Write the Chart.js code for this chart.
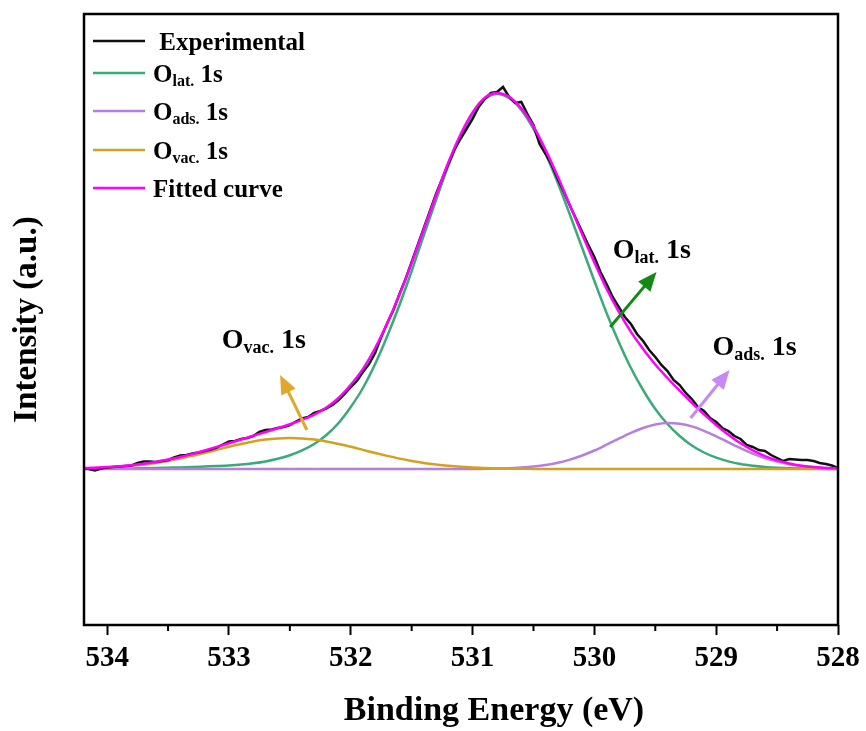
<!DOCTYPE html>
<html>
<head>
<meta charset="utf-8">
<script src="https://cdn.jsdelivr.net/npm/chart.js@4.4.0/dist/chart.umd.min.js"></script>
<style>
  body { margin: 0; background: #fff; }
  canvas { display: block; }
</style>
</head>
<body>
<canvas id="xps" width="866" height="731"></canvas>
<script>
// binding energy grid for the fitted components (eV)
const energy = [534.2, 534.1, 534.0, 533.9, 533.8, 533.7, 533.6, 533.5, 533.4, 533.3,
                533.2, 533.1, 533.0, 532.9, 532.8, 532.7, 532.6, 532.5, 532.4, 532.3,
                532.2, 532.1, 532.0, 531.9, 531.8, 531.7, 531.6, 531.5, 531.4, 531.3,
                531.2, 531.1, 531.0, 530.9, 530.8, 530.7, 530.6, 530.5, 530.4, 530.3,
                530.2, 530.1, 530.0, 529.9, 529.8, 529.7, 529.6, 529.5, 529.4, 529.3,
                529.2, 529.1, 529.0, 528.9, 528.8, 528.7, 528.6, 528.5, 528.4, 528.3,
                528.2, 528.1, 528.0];

// measured spectrum, finer grid
const expEnergy = [534.20, 534.15, 534.10, 534.05, 534.00, 533.95, 533.90, 533.85, 533.80, 533.75,
                   533.70, 533.65, 533.60, 533.55, 533.50, 533.45, 533.40, 533.35, 533.30, 533.25,
                   533.20, 533.15, 533.10, 533.05, 533.00, 532.95, 532.90, 532.85, 532.80, 532.75,
                   532.70, 532.65, 532.60, 532.55, 532.50, 532.45, 532.40, 532.35, 532.30, 532.25,
                   532.20, 532.15, 532.10, 532.05, 532.00, 531.95, 531.90, 531.85, 531.80, 531.75,
                   531.70, 531.65, 531.60, 531.55, 531.50, 531.45, 531.40, 531.35, 531.30, 531.25,
                   531.20, 531.15, 531.10, 531.05, 531.00, 530.95, 530.90, 530.85, 530.80, 530.75,
                   530.70, 530.65, 530.60, 530.55, 530.50, 530.45, 530.40, 530.35, 530.30, 530.25,
                   530.20, 530.15, 530.10, 530.05, 530.00, 529.95, 529.90, 529.85, 529.80, 529.75,
                   529.70, 529.65, 529.60, 529.55, 529.50, 529.45, 529.40, 529.35, 529.30, 529.25,
                   529.20, 529.15, 529.10, 529.05, 529.00, 528.95, 528.90, 528.85, 528.80, 528.75,
                   528.70, 528.65, 528.60, 528.55, 528.50, 528.45, 528.40, 528.35, 528.30, 528.25,
                   528.20, 528.15, 528.10, 528.05, 528.00];

const experimental = [0.5, 0, -1.5, 0.5, 1.5, 2, 2.5, 3, 3.5, 6,
                      7.5, 7.5, 7, 8, 9, 11.5, 13.5, 14, 15.5, 16.5,
                      18, 19.5, 21.5, 24.5, 27.5, 28, 30, 31, 33, 37,
                      39, 39.5, 41, 42, 44, 47.5, 50.5, 52, 56, 58,
                      60.5, 64, 69, 75, 82, 88, 97, 105, 116, 132,
                      146, 159, 175, 190, 207, 224, 241, 258, 275, 290,
                      305, 319, 330, 340, 350, 362, 370, 376, 377, 382,
                      372, 366, 367, 355, 344, 325, 315, 304, 290, 277,
                      263, 250, 237, 224, 212, 197, 185, 172, 162, 152,
                      145, 135, 128, 119, 112, 104, 98, 89, 84, 76,
                      70, 62, 58, 51, 47, 41, 38, 33, 30, 24,
                      22, 19, 18, 14, 11, 8, 10, 9.5, 9, 9,
                      8, 6, 5, 3.5, 1];

const oLat = [0.3, 0.3, 0.4, 0.5, 0.6, 0.8, 1.0, 1.3, 1.6, 2.0,
              2.5, 3.0, 3.6, 4.5, 5.8, 7.6, 10.2, 13.7, 18.6, 25,
              34, 46, 62, 81, 105, 133, 164, 198, 234, 269,
              303, 332, 355, 370, 375, 371, 359, 340, 315, 286,
              254, 221, 188, 156, 127, 101, 79, 60, 45, 33,
              23.5, 16.5, 11.3, 7.6, 4.9, 3.2, 2.0, 1.2, 0.7, 0.4,
              0.2, 0.1, 0.1];

const oAds = [0, 0, 0, 0, 0, 0, 0, 0, 0, 0,
              0, 0, 0, 0, 0, 0, 0, 0, 0, 0,
              0, 0, 0, 0, 0, 0, 0, 0, 0, 0,
              0, 0, 0, 0.2, 0.4, 0.7, 1.4, 2.4, 3.9, 6.2,
              9.4, 13.5, 18.5, 24.3, 30.3, 36.1, 41.0, 44.5, 46.0, 45.3,
              42.6, 38.2, 32.7, 26.7, 20.8, 15.4, 10.9, 7.4, 4.8, 2.9,
              1.7, 1.0, 0.5];

const oVac = [0.6, 1.0, 1.5, 2.2, 3.2, 4.5, 6.1, 8.1, 10.4, 13.1,
              16.0, 19.1, 22.2, 25.0, 27.5, 29.4, 30.6, 31.0, 30.6, 29.4,
              27.5, 25.0, 22.2, 19.1, 16.0, 13.1, 10.4, 8.1, 6.1, 4.5,
              3.2, 2.2, 1.5, 1.0, 0.6, 0.4, 0.2, 0.1, 0, 0,
              0, 0, 0, 0, 0, 0, 0, 0, 0, 0,
              0, 0, 0, 0, 0, 0, 0, 0, 0, 0,
              0, 0, 0];

const fitted = [0.9, 1.3, 1.9, 2.7, 3.8, 5.3, 7.1, 9.4, 12.0, 15.1,
                18.5, 22.1, 25.8, 29.5, 33.3, 37.0, 40.8, 44.7, 49.2, 54.4,
                61.5, 71.0, 84.2, 100.1, 121.0, 146.1, 174.4, 206.1, 240.1, 273.5,
                306.2, 334.2, 356.5, 371.2, 376.0, 372.1, 360.6, 342.5, 318.9, 292.2,
                263.4, 234.5, 206.5, 180.3, 157.3, 137.1, 120.0, 104.5, 91.0, 78.3,
                66.1, 54.7, 44.0, 34.3, 25.7, 18.6, 12.9, 8.6, 5.5, 3.3,
                1.9, 1.1, 0.6];

const xTicks = [534, 533, 532, 531, 530, 529, 528];

const FONT = '"Times New Roman", "Liberation Serif", serif';

function pts(xs, arr) {
    return xs.map((e, i) => ({ x: e, y: arr[i] }));
}

// text with subscripts written as O_{lat.}
function drawRich(ctx, str, x, y, size) {
    const parts = str.split(/(_\{[^}]*\})/);
    ctx.textAlign = 'left';
    ctx.textBaseline = 'alphabetic';
    parts.forEach(p => {
        if (!p) return;
        const sub = p.startsWith('_{');
        const t = sub ? p.slice(2, -1) : p;
        const fs = sub ? Math.round(size * 0.64) : size;
        ctx.font = 'bold ' + fs + 'px ' + FONT;
        ctx.fillText(t, x, sub ? y + size * 0.17 : y);
        x += ctx.measureText(t).width;
    });
}

function drawArrow(ctx, x0, y0, x1, y1, color) {
    const ang = Math.atan2(y1 - y0, x1 - x0);
    const head = 19, half = 8;
    ctx.strokeStyle = color;
    ctx.fillStyle = color;
    ctx.lineWidth = 3;
    ctx.beginPath();
    ctx.moveTo(x0, y0);
    ctx.lineTo(x1 - head * 0.8 * Math.cos(ang), y1 - head * 0.8 * Math.sin(ang));
    ctx.stroke();
    ctx.beginPath();
    ctx.moveTo(x1, y1);
    ctx.lineTo(x1 - head * Math.cos(ang) + half * Math.sin(ang), y1 - head * Math.sin(ang) - half * Math.cos(ang));
    ctx.lineTo(x1 - head * Math.cos(ang) - half * Math.sin(ang), y1 - head * Math.sin(ang) + half * Math.cos(ang));
    ctx.closePath();
    ctx.fill();
}

// peak labels, in data units (eV, counts)
const notes = [
    { text: 'O_{lat.} 1s', x: 529.85, y: 211, from: [529.87, 142], to: [529.49, 197], color: '#138a13' },
    { text: 'O_{ads.} 1s', x: 529.03, y: 114, from: [529.21, 51], to: [528.89, 99], color: '#c58af7' },
    { text: 'O_{vac.} 1s', x: 533.06, y: 121, from: [532.36, 39], to: [532.58, 94], color: '#e2a62c' }
];

const legendRows = [41, 73, 111, 150, 188];

const decorPlugin = {
    id: 'decor',
    afterDraw(chart) {
        const ctx = chart.ctx;
        const a = chart.chartArea;
        const xs = chart.scales.x, ys = chart.scales.y;
        ctx.save();

        // frame
        ctx.strokeStyle = '#000';
        ctx.lineWidth = 2.5;
        ctx.strokeRect(a.left, a.top, a.right - a.left, a.bottom - a.top);

        // minor ticks
        ctx.lineWidth = 2;
        xTicks.slice(0, -1).forEach(v => {
            const px = xs.getPixelForValue(v - 0.5);
            ctx.beginPath();
            ctx.moveTo(px, a.bottom);
            ctx.lineTo(px, a.bottom + 6);
            ctx.stroke();
        });

        // legend
        chart.data.datasets.forEach((ds, i) => {
            const y = legendRows[i];
            ctx.strokeStyle = ds.borderColor;
            ctx.lineWidth = 2.5;
            ctx.beginPath();
            ctx.moveTo(93, y);
            ctx.lineTo(145, y);
            ctx.stroke();
            ctx.fillStyle = '#000';
            drawRich(ctx, ds.label, 153, y + 9, 25);
        });

        // annotations
        notes.forEach(n => {
            drawArrow(ctx, xs.getPixelForValue(n.from[0]), ys.getPixelForValue(n.from[1]),
                      xs.getPixelForValue(n.to[0]), ys.getPixelForValue(n.to[1]), n.color);
            ctx.fillStyle = '#000';
            drawRich(ctx, n.text, xs.getPixelForValue(n.x), ys.getPixelForValue(n.y), 28);
        });

        // axis titles
        ctx.fillStyle = '#000';
        ctx.textAlign = 'center';
        ctx.textBaseline = 'middle';
        ctx.font = 'bold 34px ' + FONT;
        ctx.fillText('Binding Energy (eV)', 494, 711);
        ctx.font = 'bold 33px ' + FONT;
        ctx.translate(27, (a.top + a.bottom) / 2);
        ctx.rotate(-Math.PI / 2);
        ctx.fillText('Intensity (a.u.)', 0, 0);
        ctx.restore();
    }
};

const chart = new Chart(document.getElementById('xps'), {
    type: 'line',
    data: {
        datasets: [
            { label: ' Experimental', data: pts(expEnergy, experimental), borderColor: '#111111', borderWidth: 2.5, tension: 0, order: 1 },
            { label: 'O_{lat.} 1s', data: pts(energy, oLat), borderColor: '#3aaa78', borderWidth: 2.5, cubicInterpolationMode: 'monotone', order: 4 },
            { label: 'O_{ads.} 1s', data: pts(energy, oAds), borderColor: '#b57ee0', borderWidth: 2.5, cubicInterpolationMode: 'monotone', order: 3 },
            { label: 'O_{vac.} 1s', data: pts(energy, oVac), borderColor: '#d4a020', borderWidth: 2.5, cubicInterpolationMode: 'monotone', order: 2 },
            { label: 'Fitted curve', data: pts(energy, fitted), borderColor: '#ff00ff', borderWidth: 2.5, cubicInterpolationMode: 'monotone', order: 0 }
        ]
    },
    options: {
        responsive: false,
        animation: false,
        layout: { padding: { top: 14, right: 28, left: 0, bottom: 0 } },
        elements: { point: { radius: 0 }, line: { fill: false } },
        plugins: { legend: { display: false }, tooltip: { enabled: false } },
        scales: {
            x: {
                type: 'linear',
                reverse: true,
                min: 528,
                max: 534.19,
                ticks: {
                    stepSize: 1,
                    includeBounds: false,
                    autoSkip: false,
                    maxRotation: 0,
                    padding: 6,
                    color: '#000',
                    font: { family: FONT, size: 29, weight: 'bold' }
                },
                grid: { drawOnChartArea: false, tickLength: 10, tickWidth: 2, tickColor: '#000' },
                border: { display: false },
                afterFit(s) { s.height = 106; s.paddingLeft = 0; s.paddingRight = 0; }
            },
            y: {
                min: -156,
                max: 455,
                ticks: { display: false },
                grid: { display: false },
                border: { display: false },
                afterFit(s) { s.width = 84; s.paddingTop = 0; s.paddingBottom = 0; }
            }
        }
    },
    plugins: [decorPlugin]
});
</script>
</body>
</html>
